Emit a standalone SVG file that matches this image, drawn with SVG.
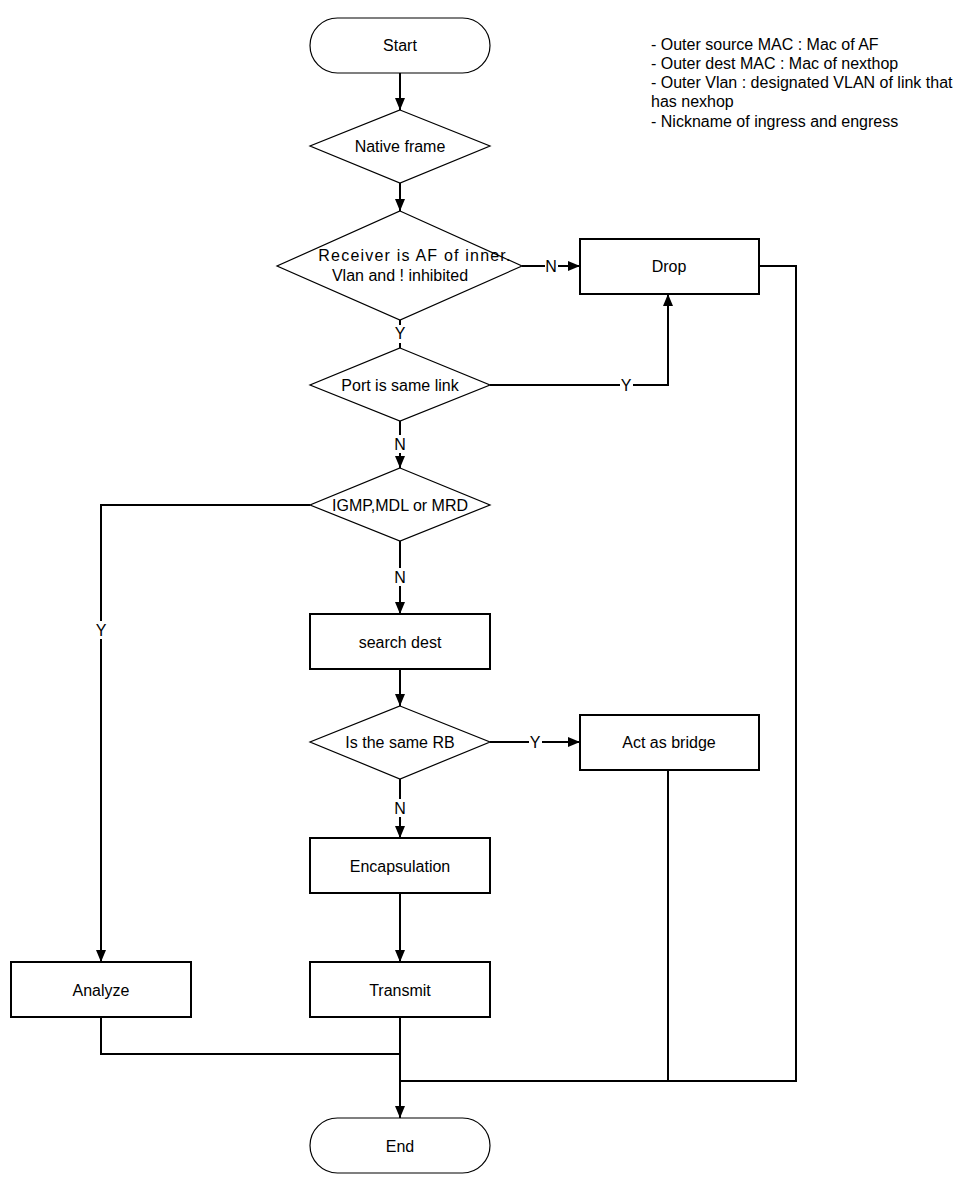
<svg xmlns="http://www.w3.org/2000/svg" width="975" height="1188" viewBox="0 0 975 1188">
<style>
text{font-family:"Liberation Sans",Arial,sans-serif;font-size:16px;fill:#000}
.c{text-anchor:middle}
.term{fill:#fff;stroke:#000;stroke-width:1.2}
.dia{fill:#fff;stroke:#000;stroke-width:1.2}
.box{fill:#fff;stroke:#000;stroke-width:2}
.ln{fill:none;stroke:#000;stroke-width:2}
.lbl{fill:#fff}
</style>
<defs>
<marker id="ah" viewBox="0 0 12 10" refX="12" refY="5" markerWidth="12" markerHeight="10" markerUnits="userSpaceOnUse" orient="auto">
<path d="M0,0 L12,5 L0,10 Z" fill="#000"/>
</marker>
</defs>
<rect width="975" height="1188" fill="#fff"/>
<g id="connectors">
<path class="ln" d="M400,73 V110" marker-end="url(#ah)"/>
<path class="ln" d="M400,183 V211" marker-end="url(#ah)"/>
<path class="ln" d="M522,266 H580" marker-end="url(#ah)"/>
<path class="ln" d="M400,320 V348"/>
<path class="ln" d="M490,385 H668 V294" marker-end="url(#ah)"/>
<path class="ln" d="M400,421 V468" marker-end="url(#ah)"/>
<path class="ln" d="M310,505 H101 V962" marker-end="url(#ah)"/>
<path class="ln" d="M400,541 V614" marker-end="url(#ah)"/>
<path class="ln" d="M400,669 V706" marker-end="url(#ah)"/>
<path class="ln" d="M490,742 H580" marker-end="url(#ah)"/>
<path class="ln" d="M400,779 V838" marker-end="url(#ah)"/>
<path class="ln" d="M400,893 V962" marker-end="url(#ah)"/>
<path class="ln" d="M101,1017 V1054 H400"/>
<path class="ln" d="M400,1017 V1118" marker-end="url(#ah)"/>
<path class="ln" d="M668,770 V1081"/>
<path class="ln" d="M759,266 H796 V1081 H400"/>
<rect class="lbl" x="545" y="257" width="13" height="18"/>
<text class="c" x="551" y="272">N</text>
<rect class="lbl" x="394" y="325" width="13" height="18"/>
<text class="c" x="400" y="339">Y</text>
<rect class="lbl" x="620" y="376" width="13" height="18"/>
<text class="c" x="626" y="391">Y</text>
<rect class="lbl" x="394" y="435" width="13" height="18"/>
<text class="c" x="400" y="450">N</text>
<rect class="lbl" x="95" y="621" width="13" height="18"/>
<text class="c" x="101" y="636">Y</text>
<rect class="lbl" x="394" y="568" width="13" height="18"/>
<text class="c" x="400" y="583">N</text>
<rect class="lbl" x="529" y="733" width="13" height="18"/>
<text class="c" x="535" y="748">Y</text>
<rect class="lbl" x="394" y="799" width="13" height="18"/>
<text class="c" x="400" y="814">N</text>
</g>
<g id="start"><rect class="term" x="310" y="18" width="180" height="55" rx="27.5"/><text class="c" x="400" y="51">Start</text></g>
<g id="native"><polygon class="dia" points="400,110 490,146 400,183 310,146"/><text class="c" x="400" y="152">Native frame</text></g>
<g id="receiver"><polygon class="dia" points="400,211 522,266 400,320 277,266"/><text class="c" x="415" y="261" letter-spacing="1.2">Receiver is AF of inner.</text><text class="c" x="400" y="281">Vlan and ! inhibited</text></g>
<g id="drop"><rect class="box" x="580" y="239" width="179" height="55"/><text class="c" x="669" y="272">Drop</text></g>
<g id="port"><polygon class="dia" points="400,348 490,385 400,421 310,385"/><text class="c" x="400" y="391">Port is same link</text></g>
<g id="igmp"><polygon class="dia" points="400,468 490,505 400,541 310,505"/><text class="c" x="400" y="511">IGMP,MDL or MRD</text></g>
<g id="search"><rect class="box" x="310" y="614" width="180" height="55"/><text class="c" x="400" y="648">search dest</text></g>
<g id="samerb"><polygon class="dia" points="400,706 490,742 400,779 310,742"/><text class="c" x="400" y="748">Is the same RB</text></g>
<g id="bridge"><rect class="box" x="580" y="715" width="179" height="55"/><text class="c" x="669" y="748">Act as bridge</text></g>
<g id="encap"><rect class="box" x="310" y="838" width="180" height="55"/><text class="c" x="400" y="872">Encapsulation</text></g>
<g id="transmit"><rect class="box" x="310" y="962" width="180" height="55"/><text class="c" x="400" y="996">Transmit</text></g>
<g id="analyze"><rect class="box" x="11" y="962" width="180" height="55"/><text class="c" x="101" y="996">Analyze</text></g>
<g id="end"><rect class="term" x="310" y="1118" width="180" height="55" rx="27.5"/><text class="c" x="400" y="1152">End</text></g>
<g id="notes">
<text x="651" y="50">- Outer source MAC : Mac of AF</text>
<text x="651" y="69">- Outer dest MAC : Mac of nexthop</text>
<text x="651" y="88">- Outer Vlan : designated VLAN of link that</text>
<text x="651" y="107">has nexhop</text>
<text x="651" y="127">- Nickname of ingress and engress</text>
</g>
</svg>
